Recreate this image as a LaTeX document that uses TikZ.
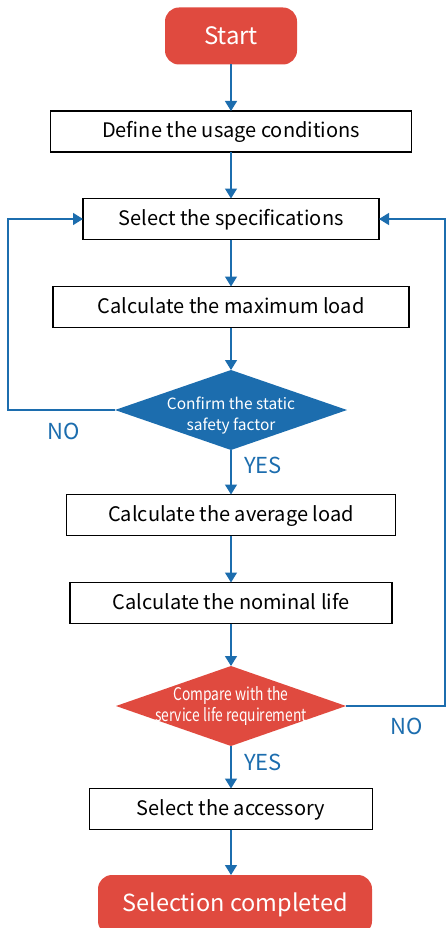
\documentclass[tikz,border=0pt]{standalone}
\usepackage{fontspec}
\setmainfont{Noto Sans CJK SC}
\usetikzlibrary{shapes.geometric,arrows.meta}
\definecolor{flowred}{HTML}{E04A3F}
\definecolor{flowblue}{HTML}{1C6DAE}
\newcommand{\twolines}[4]{\scalebox{#1}[1]{\begin{tabular}{@{}c@{}}#2\\[#4]#3\end{tabular}}}
\begin{document}
\begin{tikzpicture}[x=1pt,y=-1pt,
    every node/.style={inner sep=0pt,outer sep=0pt},
    stepbox/.style={draw=black,line width=1.1pt,fill=white,minimum height=41pt,
      text height=15.5pt,text depth=2.5pt,font=\fontsize{20}{24}\selectfont},
    termbox/.style={fill=flowred,rounded corners=14pt,text=white},
    decide/.style={diamond,aspect=2.9,minimum width=232pt,minimum height=80pt},
    flow/.style={flowblue,line width=1.4pt,-{Triangle[length=10pt,width=12pt]}},
    answer/.style={text=flowblue,font=\fontsize{22}{26}\selectfont}
    ]
    \useasboundingbox (0,0) rectangle (445,928);
    \node[termbox,minimum width=132pt,minimum height=57pt,font=\fontsize{24}{28}\selectfont] at(231,36)(start){Start};
    \node[stepbox,minimum width=361pt] at(231,131.5)(usage){Define the usage conditions};
    \node[stepbox,minimum width=296pt] at(231,219)(spec){Select the specifications};
    \node[stepbox,minimum width=356pt] at(231,307)(maxload){Calculate the maximum load};
    \node[decide,fill=flowblue] at(231,410)(static){};
    \node at([yshift=-6pt]static.center)(statictext){\color{white}\fontsize{15.5}{18}\selectfont\twolines{1}{Confirm the static}{safety factor}{3pt}};
    \node[stepbox,minimum width=329pt] at(231,515)(avgload){Calculate the average load};
    \node[stepbox,minimum width=322pt] at(231,603)(life){Calculate the nominal life};
    \node[decide,fill=flowred,minimum width=230pt] at(231,706)(req){};
    \node at([yshift=-1pt]req.center)(reqtext){\color{white}\fontsize{17.5}{18}\selectfont\twolines{0.79}{Compare with the}{service life requirement}{1pt}};
    \node[stepbox,minimum width=283pt] at(231,809)(acc){Select the accessory};
    \node[termbox,minimum width=274pt,minimum height=60pt,font=\fontsize{23.5}{28}\selectfont] at(235,905)(done){\raisebox{3pt}{Selection completed}};
    \coordinate (lcorner) at(8,410);
    \coordinate (rcorner) at(445,706);
    \draw[flow](start)--(usage);
    \draw[flow](usage)--(spec);
    \draw[flow](spec)--(maxload);
    \draw[flow](maxload)--(static);
    \draw[flow](static)--(avgload);
    \node[answer] at(263,465)(yes1){YES};
    \draw[flow](avgload)--(life);
    \draw[flow](life)--(req);
    \draw[flow](req)--(acc);
    \node[answer] at(263,762)(yes2){YES};
    \draw[flow](acc)--(acc|-done.north);
    \draw[flow](static.west)--(lcorner)|-(spec.west);
    \node[answer] at(64,431)(no1){NO};
    \draw[flow](req.east)--(rcorner)|-(spec.east);
    \node[answer] at(407,726)(no2){NO};
  \end{tikzpicture}
\end{document}
